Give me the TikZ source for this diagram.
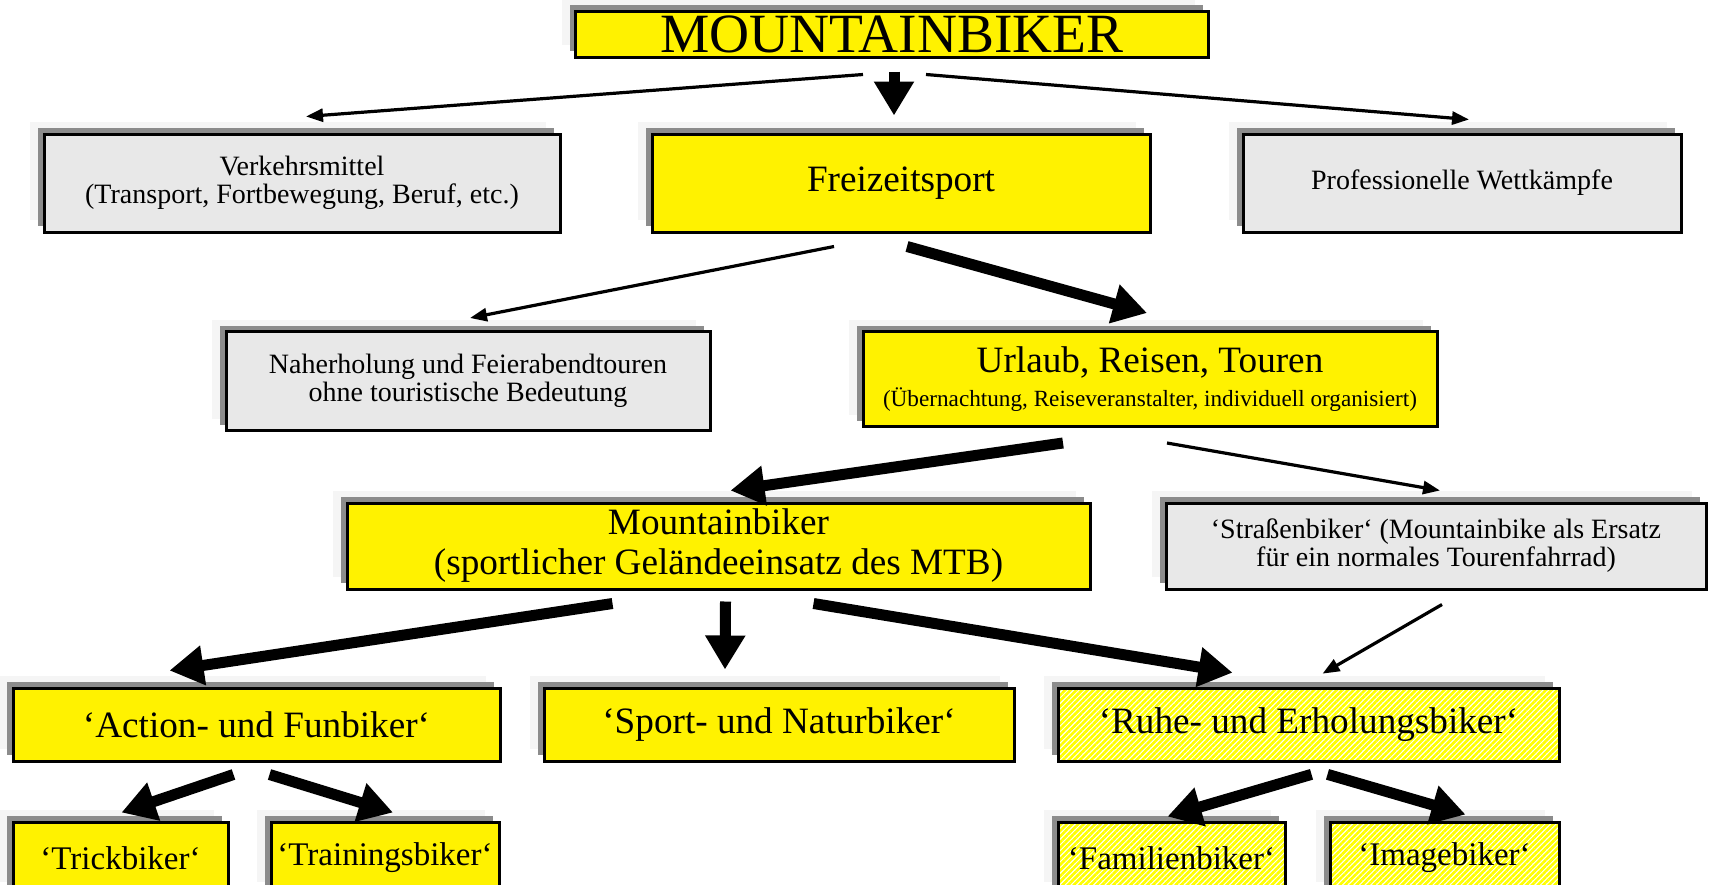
\documentclass[tikz,border=0pt]{standalone}
\usepackage{fontspec}
\setmainfont{Liberation Serif}
\usepackage{tikz}
\usetikzlibrary{
	calc,
	shadows,
	patterns.meta,
	arrows.meta
}
\tikzset{
	box/.style={
		draw, line width=1.5pt, inner sep=0pt, align=center,
		general shadow={fill=black!4, shadow xshift=-7pt, shadow yshift=6pt},
		general shadow={fill=black!45, shadow xshift=-3pt, shadow yshift=3pt}
	},
	yellowbox/.style={box, fill=yellow},
	graybox/.style={box, fill=black!9},
	hatchbox/.style={
		box, preaction={fill=white},
		pattern={Lines[angle=45,distance=2pt,line width=1.35pt]},
		pattern color=yellow
	},
	thinarrow/.style={line width=1.6pt, -{Triangle[length=8.5pt,width=6.5pt]}},
	thickarrow/.style={line width=5.5pt, -{Triangle[length=17pt,width=19pt]}},
	bigtext/.style={font=\fontsize{18.6}{20}\selectfont},
	smalltext/.style={font=\fontsize{14}{14}\selectfont},
	lowtext/.style={font=\fontsize{16.5}{18}\selectfont}
}

\begin{document}
\begin{tikzpicture}[x=0.5pt,y=-0.5pt]
	\useasboundingbox (0,0) rectangle (1713,884);
	\clip (0,0) rectangle (1713,884);
	\path
		node[yellowbox,minimum width=316.5pt,minimum height=23pt,font=\fontsize{27.7}{30}\selectfont]
			(top)  at (892,34)    {MOUNTAINBIKER}
		node[graybox,smalltext,minimum width=258pt,minimum height=49pt]
			(verk) at (302,183)   {Verkehrsmittel\\(Transport, Fortbewegung, Beruf, etc.)}
		node[yellowbox,bigtext,minimum width=249pt,minimum height=49pt]
			(frei) at (901,183)   {Freizeitsport}
		node[graybox,smalltext,minimum width=219pt,minimum height=49pt]
			(prof) at (1462,183)  {Professionelle Wettkämpfe}
		node[graybox,smalltext,minimum width=242pt,minimum height=49.5pt]
			(nah)  at (468,381) {Naherholung und Feierabendtouren\\ohne touristische Bedeutung}
		node[yellowbox,bigtext,minimum width=287pt,minimum height=47.5pt]
			(url)  at (1150,379) {Urlaub, Reisen, Touren\\[-3pt]{\fontsize{11.6}{13}\selectfont (Übernachtung, Reiseveranstalter, individuell organisiert)}}
		node[yellowbox,bigtext,minimum width=371.5pt,minimum height=43pt]
			(mtb)  at (718.5,546) {Mountainbiker\\(sportlicher Geländeeinsatz des MTB)}
		node[graybox,smalltext,minimum width=270pt,minimum height=43pt]
			(str)  at (1436,546)  {‘Straßenbiker‘ (Mountainbike als Ersatz\\für ein normales Tourenfahrrad)}
		node[yellowbox,bigtext,minimum width=243.5pt,minimum height=36.5pt]
			(act)  at (256.5,724.5) {‘Action- und Funbiker‘}
		node[yellowbox,bigtext,minimum width=235pt,minimum height=36.5pt]
			(spo)  at (779,724.5)   {‘Sport- und Naturbiker‘}
		node[hatchbox,bigtext,minimum width=250.5pt,minimum height=36.5pt]
			(ruh)  at (1308.5,724.5) {‘Ruhe- und Erholungsbiker‘}
		node[yellowbox,lowtext,minimum width=107.5pt,minimum height=36pt]
			(tri)  at (120.5,858)  {‘Trickbiker‘}
		node[yellowbox,lowtext,minimum width=114pt,minimum height=36pt]
			(tra)  at (385,858)    {‘Trainingsbiker‘}
		node[hatchbox,lowtext,minimum width=113.5pt,minimum height=36pt]
			(fam)  at (1171.5,858) {‘Familienbiker‘}
		node[hatchbox,lowtext,minimum width=114.5pt,minimum height=36pt]
			(ima)  at (1444.5,858) {‘Imagebiker‘}
	;
	% first level
	\draw[thinarrow]  ($(top.south)+(-29,16)$) -- ($(verk.north)+(4,-16)$);
	\draw[thickarrow] ($(top.south)+(2,13)$)   -- ($(frei.north)+(-7,-17)$);
	\draw[thinarrow]  ($(top.south)+(34,16)$)  -- ($(prof.north)+(7,-13)$);
	% Freizeitsport
	\draw[thinarrow]  ($(frei.south)+(-67,13)$) -- ($(nah.north)+(2,-12)$);
	\draw[thickarrow] ($(frei.south)+(6,13)$)   -- ($(url.north)+(-3,-17)$);
	% Urlaub
	\draw[thickarrow] ($(url.south)+(-87,15)$) -- ($(mtb.north)+(12,-11)$);
	\draw[thinarrow]  ($(url.south)+(17,15)$)  -- ($(str.north)+(4,-11)$);
	% Mountainbiker
	\draw[thickarrow] ($(mtb.south)+(-106,13)$) -- ($(act.north)+(-87,-16)$);
	\draw[thickarrow] ($(mtb.south)+(7,11)$)    -- ($(spo.north)+(-54,-17)$);
	\draw[thickarrow] ($(mtb.south)+(95,13)$)   -- ($(ruh.north)+(-76,-14)$);
	\draw[thinarrow]  ($(str.south)+(6,14)$)    -- ($(ruh.north)+(14,-13)$);
	% last level
	\draw[thickarrow] ($(act.south)+(-23,12)$) -- ($(tri.north)+(1,-8)$);
	\draw[thickarrow] ($(act.south)+(13,12)$)  -- ($(tra.north)+(8,-8)$);
	\draw[thickarrow] ($(ruh.south)+(3,12)$)   -- ($(fam.north)+(-4,-4)$);
	\draw[thickarrow] ($(ruh.south)+(19,12)$)  -- ($(ima.north)+(21,-6)$);
\end{tikzpicture}
\end{document}
